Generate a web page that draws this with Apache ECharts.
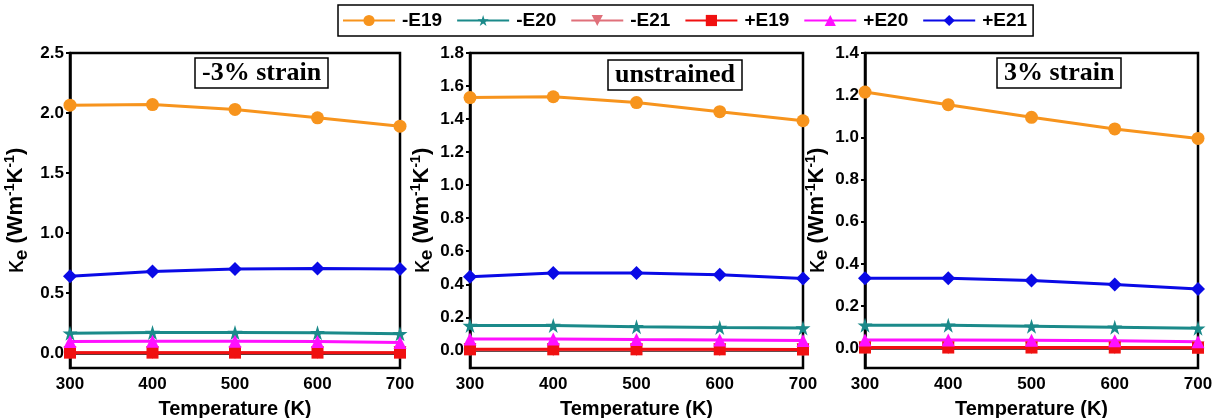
<!DOCTYPE html>
<html>
<head>
<meta charset="utf-8">
<script src="https://cdn.jsdelivr.net/npm/echarts@6/dist/echarts.min.js"></script>
<style>html,body{margin:0;padding:0;background:#fff}#c{width:1231px;height:418px}</style>
</head>
<body>
<div id="c"></div>
<script>
// ---- data ----
const temps = [300, 400, 500, 600, 700];
const seriesNames = ['-E19', '-E20', '-E21', '+E19', '+E20', '+E21'];
const panelTitles = ['-3% strain', 'unstrained', '3% strain'];
const xTicks = [300, 400, 500, 600, 700];
const yTicksP1 = [0, 0.5, 1.0, 1.5, 2.0, 2.5];
const yTicksP2 = [0, 0.2, 0.4, 0.6, 0.8, 1.0, 1.2, 1.4, 1.6, 1.8];
const yTicksP3 = [0, 0.2, 0.4, 0.6, 0.8, 1.0, 1.2, 1.4];

// -3% strain
const negE19_m3 = [2.065, 2.07, 2.03, 1.96, 1.89];
const negE20_m3 = [0.165, 0.17, 0.17, 0.168, 0.16];
const negE21_m3 = [0.004, 0.004, 0.004, 0.004, 0.004];
const posE19_m3 = [0.003, 0.003, 0.003, 0.003, 0.003];
const posE20_m3 = [0.095, 0.098, 0.098, 0.095, 0.088];
const posE21_m3 = [0.64, 0.68, 0.70, 0.705, 0.70];
// unstrained
const negE19_0 = [1.53, 1.535, 1.50, 1.445, 1.39];
const negE20_0 = [0.15, 0.15, 0.143, 0.138, 0.135];
const negE21_0 = [0.004, 0.004, 0.004, 0.004, 0.004];
const posE19_0 = [0.006, 0.006, 0.006, 0.006, 0.005];
const posE20_0 = [0.068, 0.068, 0.065, 0.063, 0.06];
const posE21_0 = [0.445, 0.468, 0.468, 0.458, 0.435];
// 3% strain
const negE19_p3 = [1.215, 1.155, 1.095, 1.04, 0.995];
const negE20_p3 = [0.11, 0.11, 0.105, 0.10, 0.095];
const negE21_p3 = [0.003, 0.003, 0.003, 0.003, 0.003];
const posE19_p3 = [0.004, 0.004, 0.004, 0.004, 0.003];
const posE20_p3 = [0.04, 0.04, 0.038, 0.036, 0.032];
const posE21_p3 = [0.332, 0.332, 0.322, 0.303, 0.282];

const panelData = [
  [negE19_m3, negE20_m3, negE21_m3, posE19_m3, posE20_m3, posE21_m3],
  [negE19_0, negE20_0, negE21_0, posE19_0, posE20_0, posE21_0],
  [negE19_p3, negE20_p3, negE21_p3, posE19_p3, posE20_p3, posE21_p3]
];

// ---- styles ----
const colors = ['#F7941D', '#1B8A8A', '#E0707A', '#F01010', '#FF10FF', '#0A0AE6'];
const STAR = 'path://M50,0 L61,35 L98,35 L68,57 L79,91 L50,70 L21,91 L32,57 L2,35 L39,35 Z';
const symbols = ['circle', STAR, 'triangle', 'rect', 'triangle', 'diamond'];
const symbolRot = [0, 0, 180, 0, 0, 0];
const symbolSizes = [13, 15, 13, 12, 13, 14];

const grids = [
  {left: 70, top: 53, width: 330, bottom: 50},
  {left: 470, top: 53, width: 333, bottom: 50},
  {left: 865, top: 53, width: 333, bottom: 50}
];
const yRanges = [[-0.125, 2.5], [-0.107, 1.8], [-0.093, 1.4]];
const yTicks = [yTicksP1, yTicksP2, yTicksP3];
const yNameGaps = [39, 32, 26];
const titlePos = [[195, 58], [608, 60], [997, 58]];

const yName = '{k|κ}{s|e}{n| (Wm}{p|-1}{n|K}{p|-1}{n|)}';
const yNameRich = {
  k: {fontSize: 26, fontFamily: 'Liberation Sans', color: '#000', fontWeight: 'normal'},
  s: {fontSize: 19, fontFamily: 'Liberation Sans', color: '#000', fontWeight: 'bold', padding: [11, 0, 0, 0]},
  n: {fontSize: 22, fontFamily: 'Liberation Sans', color: '#000', fontWeight: 'bold'},
  p: {fontSize: 14, fontFamily: 'Liberation Sans', color: '#000', fontWeight: 'bold', padding: [0, 0, 11, 0]}
};

const option = {
  animation: false,
  backgroundColor: '#fff',
  legend: {
    data: seriesNames,
    left: 338, top: 5,
    padding: [6, 6, 6, 4],
    itemGap: 14,
    itemWidth: 52, itemHeight: 14,
    borderColor: '#000', borderWidth: 1.5,
    textStyle: {fontSize: 19, fontWeight: 'bold', fontFamily: 'Liberation Sans', color: '#000', padding: [0, 0, 0, 2]}
  },
  title: panelTitles.map((t, i) => ({
    text: t,
    left: titlePos[i][0], top: titlePos[i][1],
    padding: [2, 7, 2, 7],
    borderColor: '#000', borderWidth: 1.5,
    textStyle: {fontSize: 26, fontWeight: 'bold', fontFamily: 'Liberation Serif', color: '#000'}
  })),
  grid: grids.map(g => Object.assign({show: true, borderColor: '#000', borderWidth: 2.5,
    backgroundColor: 'transparent', containLabel: false, outerBoundsMode: 'none'}, g)),
  xAxis: grids.map((g, i) => ({
    type: 'value', gridIndex: i, min: 300, max: 700, interval: 100,
    name: 'Temperature (K)', nameLocation: 'middle', nameGap: 31,
    nameTextStyle: {fontSize: 20, fontWeight: 'bold', fontFamily: 'Liberation Sans', color: '#000'},
    axisLine: {show: true, lineStyle: {color: '#000', width: 2.5}},
    axisTick: {show: true, length: 3, lineStyle: {color: '#000', width: 2}},
    axisLabel: {fontSize: 17, fontWeight: 'bold', fontFamily: 'Liberation Sans', color: '#000', margin: 8,
      customValues: xTicks},
    splitLine: {show: false}
  })),
  yAxis: grids.map((g, i) => ({
    type: 'value', gridIndex: i, min: yRanges[i][0], max: yRanges[i][1],
    name: yName, nameLocation: 'middle', nameGap: yNameGaps[i], nameRotate: 90,
    nameTextStyle: {rich: yNameRich},
    axisLine: {show: true, lineStyle: {color: '#000', width: 2.5}},
    axisTick: {show: true, length: 4, lineStyle: {color: '#000', width: 2}, customValues: yTicks[i]},
    axisLabel: {fontSize: 17, fontWeight: 'bold', fontFamily: 'Liberation Sans', color: '#000', margin: 6,
      customValues: yTicks[i], formatter: v => v.toFixed(1)},
    splitLine: {show: false}
  })),
  series: []
};

panelData.forEach((arrs, p) => {
  arrs.forEach((vals, k) => {
    option.series.push({
      type: 'line', name: seriesNames[k],
      xAxisIndex: p, yAxisIndex: p,
      data: temps.map((t, j) => [t, vals[j]]),
      symbol: symbols[k], symbolRotate: symbolRot[k], symbolSize: symbolSizes[k],
      itemStyle: {color: colors[k]},
      lineStyle: {color: colors[k], width: 3},
      clip: false
    });
  });
});

const chart = echarts.init(document.getElementById('c'), null, {renderer: 'canvas'});
chart.setOption(option);
</script>
</body>
</html>
